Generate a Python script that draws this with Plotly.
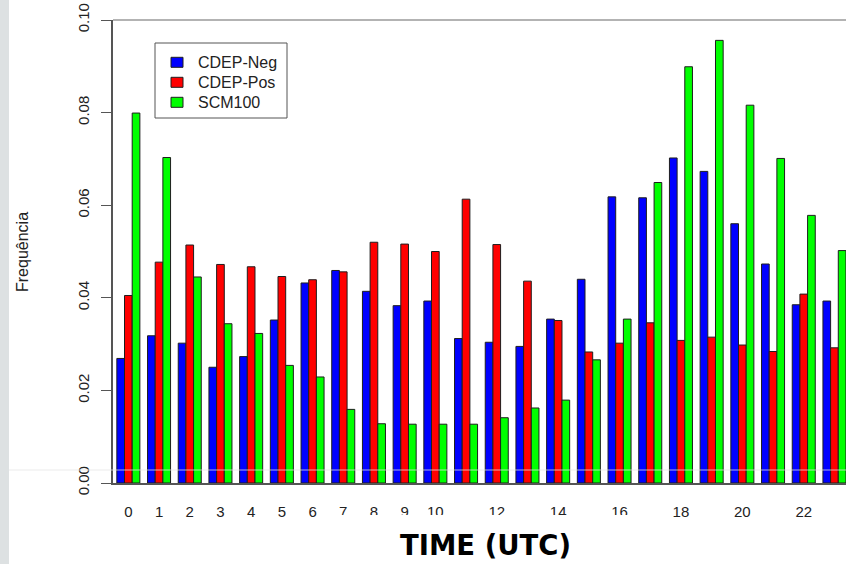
import plotly.graph_objects as go

# Hourly frequency distributions (UTC hour 0-23)
hours = list(range(24))
cdep_neg = [0.0269, 0.0318, 0.0302, 0.0250, 0.0273, 0.0352, 0.0432, 0.0459,
            0.0414, 0.0383, 0.0393, 0.0312, 0.0304, 0.0295, 0.0354, 0.0440,
            0.0618, 0.0616, 0.0702, 0.0673, 0.0560, 0.0473, 0.0385, 0.0393]
cdep_pos = [0.0405, 0.0477, 0.0514, 0.0472, 0.0467, 0.0446, 0.0439, 0.0456,
            0.0520, 0.0516, 0.0500, 0.0613, 0.0515, 0.0436, 0.0351, 0.0283,
            0.0302, 0.0346, 0.0308, 0.0315, 0.0298, 0.0284, 0.0408, 0.0292]
scm100 = [0.0799, 0.0703, 0.0445, 0.0344, 0.0323, 0.0254, 0.0229, 0.0159,
          0.0128, 0.0127, 0.0127, 0.0127, 0.0141, 0.0162, 0.0179, 0.0266,
          0.0354, 0.0649, 0.0899, 0.0956, 0.0816, 0.0701, 0.0578, 0.0502]

series_names = ["CDEP-Neg", "CDEP-Pos", "SCM100"]
series_colors = ["#0000FF", "#FF0000", "#00FF00"]

x_tickvals = [0, 1, 2, 3, 4, 5, 6, 7, 8, 9, 10, 12, 14, 16, 18, 20, 22]
x_ticktext = [str(v) for v in x_tickvals]
y_tickvals = [0.00, 0.02, 0.04, 0.06, 0.08, 0.10]

W, H = 846, 564
L, R, T, B = 113, 0, 20, 81
pw, ph = W - L - R, H - T - B


def px_x(px):
    return (px - L) / pw


def px_y(py):
    return (H - B - py) / ph


fig = go.Figure()
for name, vals, col in zip(series_names, [cdep_neg, cdep_pos, scm100], series_colors):
    fig.add_trace(go.Bar(
        x=hours, y=vals, name=name, showlegend=False,
        marker=dict(color=col, line=dict(color="#1e1e1e", width=1)),
    ))

axis_font = dict(family="Liberation Sans, Arial, sans-serif", size=15, color="#222")
legend_font = dict(family="Liberation Sans, Arial, sans-serif", size=16, color="#222")

fig.update_layout(
    width=W, height=H,
    margin=dict(l=L, r=R, t=T, b=B, pad=0),
    paper_bgcolor="white", plot_bgcolor="white",
    barmode="group", bargap=0.25, bargroupgap=0,
    xaxis=dict(
        range=[-0.5, -0.5 + pw / 30.7],
        tickmode="array", tickvals=x_tickvals, ticktext=x_ticktext,
        ticks="", showgrid=False, zeroline=False,
        showline=True, linecolor="#555", linewidth=1.5,
        tickfont=axis_font, ticklabelstandoff=14,
    ),
    yaxis=dict(
        range=[0, 0.10],
        tickmode="array", tickvals=y_tickvals, tickformat=".2f",
        ticks="outside", ticklen=10, tickcolor="#555", tickwidth=1,
        tickangle=-90, showgrid=False, zeroline=False,
        showline=True, linecolor="#555", linewidth=1.5,
        tickfont=axis_font, ticklabelstandoff=6,
    ),
    font=axis_font,
)

shapes = [
    # grey strip along the left edge of the page
    dict(type="rect", xref="paper", yref="paper",
         x0=px_x(0), x1=px_x(9), y0=px_y(H), y1=px_y(0),
         fillcolor="#dde1e2", line=dict(width=0), layer="below"),
    # reference line at the top of the scale
    dict(type="line", xref="paper", yref="paper",
         x0=0, x1=1, y0=1, y1=1, line=dict(color="#9a9a9a", width=1.5)),
    # faint horizontal rule near the base
    dict(type="line", xref="paper", yref="paper",
         x0=px_x(9), x1=1, y0=px_y(470), y1=px_y(470),
         line=dict(color="rgba(228,228,228,0.75)", width=1), layer="above"),
    # white band trimming the lower edge of the middle hour labels
    dict(type="rect", xref="paper", yref="paper",
         x0=px_x(335), x1=px_x(632), y0=px_y(523), y1=px_y(515),
         fillcolor="white", line=dict(width=0), layer="above"),
    # legend frame
    dict(type="rect", xref="paper", yref="paper",
         x0=px_x(155), x1=px_x(287), y0=px_y(118), y1=px_y(43),
         fillcolor="white", line=dict(color="#555", width=1), layer="above"),
]

# legend rows: swatch + label
row_y = [62.3, 82.3, 102.3]
for name, col, ry in zip(series_names, series_colors, row_y):
    shapes.append(dict(
        type="rect", xref="paper", yref="paper",
        x0=px_x(171), x1=px_x(183), y0=px_y(ry + 5), y1=px_y(ry - 5),
        fillcolor=col, line=dict(color="#1e1e1e", width=1), layer="above"))
    fig.add_annotation(
        text=name, xref="paper", yref="paper",
        x=px_x(196), y=px_y(ry), xanchor="left", yanchor="middle",
        showarrow=False, font=legend_font)

fig.update_layout(shapes=shapes)

fig.add_annotation(
    text="Frequência", xref="paper", yref="paper",
    x=px_x(22), y=px_y(252), xanchor="center", yanchor="middle",
    textangle=-90, showarrow=False, font=legend_font,
)
fig.add_annotation(
    text="<b>TIME (UTC)</b>", xref="paper", yref="paper",
    x=px_x(485), y=px_y(545), xanchor="center", yanchor="middle",
    showarrow=False,
    font=dict(family="DejaVu Sans, Verdana, sans-serif", size=27.5, color="black"),
)

fig.write_html("out.html")
